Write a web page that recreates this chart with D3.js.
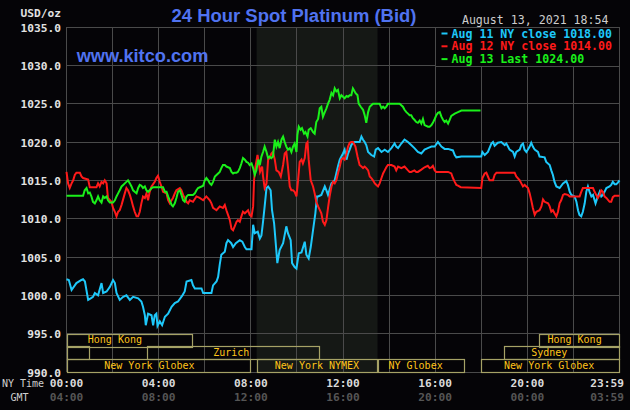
<!DOCTYPE html>
<html>
<head>
<meta charset="utf-8">
<script src="https://cdn.jsdelivr.net/npm/d3@7"></script>
<style>
  html, body { margin: 0; padding: 0; background: #050407; }
  svg { display: block; }
</style>
</head>
<body>
<div id="chart"></div>
<script>
// [hour of NY day, price]
const aug11 = [[0,1002.1],[0.1,1002.0],[0.22,1000.7],[0.43,1001.6],[0.65,1002.0],[0.72,1002.1],[0.8,1001.8],[0.94,999.4],[1.05,999.6],[1.15,999.8],[1.23,1000.3],[1.37,1000.0],[1.52,1001.6],[1.59,1000.3],[1.74,1000.5],[1.88,1001.1],[2.02,1002.0],[2.1,1001.6],[2.17,1000.3],[2.31,999.4],[2.46,999.8],[2.6,1000.0],[2.75,999.4],[2.89,999.8],[3.11,999.6],[3.25,999.2],[3.32,998.5],[3.4,997.4],[3.44,996.1],[3.54,997.6],[3.69,997.4],[3.76,996.1],[3.83,997.4],[3.9,997.6],[3.95,996.0],[4.05,996.6],[4.15,996.1],[4.27,997.2],[4.41,997.6],[4.56,998.5],[4.7,999.0],[4.84,999.2],[5.03,1000.0],[5.13,1000.5],[5.21,1001.8],[5.42,1002.0],[5.49,1001.3],[5.57,1000.9],[5.86,1000.9],[5.93,1000.3],[6.29,1000.3],[6.36,1001.3],[6.51,1001.8],[6.58,1002.4],[6.65,1004.0],[6.72,1005.3],[6.87,1005.7],[6.94,1006.8],[7.01,1007.2],[7.15,1006.8],[7.23,1006.3],[7.35,1006.8],[7.52,1007.2],[7.63,1007.0],[7.74,1006.3],[7.81,1006.0],[8.03,1006.0],[8.1,1009.2],[8.17,1008.1],[8.3,1008.3],[8.39,1007.4],[8.46,1007.8],[8.53,1009.6],[8.6,1011.6],[8.68,1014.0],[8.75,1014.2],[8.86,1013.7],[8.92,1011.1],[9.01,1009.4],[9.07,1007.2],[9.15,1004.2],[9.25,1005.9],[9.4,1006.8],[9.54,1009.0],[9.61,1008.1],[9.73,1007.2],[9.79,1004.2],[9.9,1003.7],[9.98,1003.5],[10.08,1005.5],[10.2,1005.6],[10.34,1007.0],[10.41,1005.3],[10.51,1004.8],[10.6,1006.3],[10.7,1008.5],[10.8,1010.7],[10.87,1012.9],[10.92,1012.9],[11.06,1013.1],[11.21,1014.2],[11.28,1013.7],[11.35,1013.1],[11.5,1014.6],[11.64,1015.0],[11.71,1015.9],[11.78,1016.8],[11.86,1017.7],[11.93,1018.1],[12.0,1018.5],[12.07,1019.0],[12.15,1017.7],[12.22,1018.5],[12.29,1019.0],[12.36,1019.6],[12.43,1019.9],[12.51,1020.0],[12.72,1020.0],[12.8,1020.7],[12.87,1020.3],[12.94,1020.0],[13.01,1019.6],[13.09,1018.7],[13.23,1018.3],[13.35,1018.1],[13.42,1019.0],[13.52,1019.2],[13.67,1018.7],[13.81,1019.0],[13.95,1018.7],[14.1,1019.2],[14.24,1019.8],[14.31,1019.4],[14.39,1019.2],[14.53,1019.8],[14.67,1020.3],[14.82,1020.0],[14.96,1019.6],[15.1,1019.2],[15.25,1018.7],[15.4,1018.5],[15.54,1019.0],[15.68,1019.2],[15.84,1019.4],[15.98,1019.4],[16.12,1020.0],[16.27,1019.4],[16.41,1019.1],[16.56,1019.1],[16.77,1018.9],[16.85,1018.3],[16.92,1018.0],[17.14,1018.1],[18.0,1018.1],[18.05,1018.7],[18.15,1018.3],[18.29,1018.7],[18.44,1019.8],[18.51,1020.0],[18.58,1019.5],[18.72,1019.9],[18.87,1020.0],[18.94,1019.8],[19.02,1019.6],[19.09,1019.8],[19.23,1019.0],[19.38,1018.7],[19.45,1018.1],[19.52,1018.7],[19.67,1019.0],[19.74,1019.6],[19.81,1019.8],[19.88,1019.0],[19.96,1018.7],[20.1,1019.4],[20.17,1019.9],[20.24,1019.4],[20.32,1019.0],[20.46,1018.7],[20.53,1018.1],[20.75,1018.0],[20.82,1017.4],[20.97,1017.0],[21.04,1016.3],[21.11,1015.7],[21.18,1014.8],[21.26,1014.2],[21.4,1014.0],[21.55,1014.6],[21.69,1014.9],[21.76,1014.4],[21.84,1013.5],[21.91,1013.1],[22.05,1012.9],[22.13,1012.2],[22.2,1011.1],[22.26,1010.5],[22.34,1010.3],[22.41,1010.9],[22.49,1012.0],[22.56,1013.5],[22.63,1014.2],[22.7,1013.5],[22.78,1012.9],[22.85,1013.1],[22.96,1012.0],[23.06,1012.9],[23.14,1013.5],[23.21,1012.9],[23.28,1013.1],[23.35,1013.5],[23.43,1014.0],[23.57,1014.2],[23.64,1014.4],[23.71,1014.8],[23.79,1014.5],[23.86,1014.5],[23.93,1014.7],[24.0,1015.0]];

const aug12 = [[0,1016.1],[0.07,1014.6],[0.14,1014.0],[0.22,1014.6],[0.29,1015.0],[0.36,1015.7],[0.43,1016.0],[0.58,1016.0],[0.65,1015.5],[0.72,1015.3],[0.94,1015.1],[1.01,1014.1],[1.3,1014.1],[1.37,1014.6],[1.44,1014.2],[1.52,1014.8],[1.59,1014.6],[1.66,1015.0],[1.74,1014.6],[1.8,1012.7],[1.95,1012.2],[2.02,1011.4],[2.1,1010.9],[2.17,1010.3],[2.24,1010.9],[2.31,1011.1],[2.39,1011.8],[2.53,1013.3],[2.6,1014.0],[2.67,1013.7],[2.75,1013.1],[2.82,1012.4],[2.89,1011.6],[2.96,1010.9],[3.04,1010.3],[3.11,1010.3],[3.18,1010.9],[3.25,1012.0],[3.32,1012.9],[3.4,1012.7],[3.47,1013.3],[3.54,1012.4],[3.61,1013.5],[3.69,1014.2],[3.83,1014.8],[3.9,1015.3],[3.97,1015.6],[4.05,1014.8],[4.12,1014.2],[4.19,1013.5],[4.34,1013.3],[4.41,1012.4],[4.48,1012.0],[4.56,1012.4],[4.62,1012.7],[4.7,1013.3],[4.77,1013.7],[4.92,1014.0],[4.99,1013.7],[5.06,1013.1],[5.13,1012.7],[5.21,1012.2],[5.28,1012.0],[5.35,1012.4],[5.49,1012.2],[5.64,1012.9],[5.78,1012.7],[5.93,1012.4],[6.07,1012.9],[6.22,1012.4],[6.29,1012.0],[6.36,1011.4],[6.51,1011.1],[6.65,1011.6],[6.79,1011.4],[6.87,1011.8],[6.94,1011.1],[7.01,1010.5],[7.09,1009.8],[7.16,1008.7],[7.23,1008.5],[7.3,1009.0],[7.38,1009.6],[7.44,1009.8],[7.52,1009.6],[7.59,1010.3],[7.66,1010.9],[7.74,1010.7],[7.81,1010.9],[7.88,1011.1],[7.95,1010.5],[8.03,1010.3],[8.1,1011.6],[8.14,1015.0],[8.2,1016.8],[8.29,1018.3],[8.34,1017.4],[8.4,1016.1],[8.49,1016.8],[8.53,1015.5],[8.6,1014.0],[8.68,1014.6],[8.75,1017.7],[8.82,1017.9],[8.89,1018.5],[8.96,1018.7],[9.04,1017.7],[9.11,1016.3],[9.21,1016.1],[9.3,1015.5],[9.4,1017.0],[9.47,1018.5],[9.54,1018.7],[9.61,1016.8],[9.69,1014.2],[9.76,1013.7],[9.83,1013.7],[9.9,1013.5],[9.98,1012.9],[10.05,1015.0],[10.12,1017.4],[10.2,1017.7],[10.26,1017.2],[10.34,1017.9],[10.41,1019.8],[10.46,1020.0],[10.51,1017.7],[10.6,1015.0],[10.7,1014.2],[10.77,1013.3],[10.84,1012.2],[10.92,1011.6],[11.06,1010.7],[11.13,1009.6],[11.21,1009.2],[11.28,1009.8],[11.35,1011.4],[11.42,1012.9],[11.5,1014.2],[11.57,1014.8],[11.64,1014.6],[11.71,1015.0],[11.78,1015.9],[11.86,1016.8],[11.93,1017.7],[12.0,1017.9],[12.07,1017.7],[12.15,1018.5],[12.22,1019.4],[12.29,1019.9],[12.36,1020.0],[12.43,1020.0],[12.47,1019.8],[12.54,1019.4],[12.63,1018.1],[12.72,1017.0],[12.8,1016.8],[12.87,1016.6],[12.94,1016.8],[13.01,1016.6],[13.09,1016.3],[13.16,1015.5],[13.23,1015.3],[13.3,1015.0],[13.38,1014.6],[13.45,1014.4],[13.52,1014.2],[13.59,1014.6],[13.67,1015.3],[13.74,1015.9],[13.81,1016.3],[13.88,1016.7],[13.95,1017.0],[14.1,1017.0],[14.24,1016.8],[14.31,1016.3],[14.39,1016.8],[14.53,1016.6],[14.67,1016.8],[14.82,1016.3],[14.89,1016.1],[14.96,1016.1],[15.1,1016.3],[15.18,1016.1],[15.25,1016.1],[15.4,1016.4],[15.54,1016.7],[15.68,1016.9],[15.76,1016.6],[15.84,1016.7],[15.9,1016.9],[15.98,1016.3],[16.05,1016.1],[16.56,1016.1],[16.7,1015.9],[16.77,1015.3],[16.85,1014.8],[16.92,1014.4],[16.99,1014.3],[17.11,1014.1],[18.0,1014.0],[18.05,1015.3],[18.15,1015.9],[18.22,1016.0],[18.29,1015.5],[18.36,1015.0],[18.51,1015.0],[18.58,1015.7],[18.66,1016.0],[19.45,1016.0],[19.52,1015.5],[19.67,1015.0],[19.74,1014.6],[19.81,1014.2],[19.88,1014.4],[20.03,1014.0],[20.1,1013.3],[20.17,1012.4],[20.24,1011.4],[20.32,1010.5],[20.39,1010.9],[20.53,1011.1],[20.61,1011.6],[20.68,1012.5],[20.75,1012.2],[20.9,1012.0],[20.97,1011.6],[21.04,1010.9],[21.11,1011.1],[21.18,1010.7],[21.26,1010.3],[21.33,1010.9],[21.4,1012.0],[21.47,1012.4],[21.55,1013.1],[21.62,1013.2],[21.76,1013.1],[21.84,1012.9],[22.27,1012.9],[22.34,1013.5],[22.41,1014.0],[22.85,1014.0],[22.92,1013.5],[22.99,1013.1],[23.06,1012.7],[23.14,1013.1],[23.21,1013.7],[23.28,1013.5],[23.35,1012.9],[23.43,1012.7],[23.57,1012.2],[23.64,1012.2],[23.71,1012.8],[23.79,1013.0],[24.0,1013.0]];

const aug13 = [[0,1013.0],[0.72,1013.0],[0.79,1013.7],[0.87,1014.0],[0.94,1013.3],[1.01,1013.4],[1.08,1012.9],[1.15,1012.2],[1.23,1012.0],[1.3,1012.4],[1.37,1012.9],[1.44,1012.4],[1.52,1012.1],[1.59,1012.9],[1.66,1012.7],[1.74,1012.9],[1.8,1012.4],[1.88,1012.1],[2.02,1012.1],[2.1,1012.4],[2.17,1012.9],[2.24,1013.3],[2.31,1013.7],[2.39,1014.2],[2.46,1014.4],[2.53,1014.6],[2.6,1014.8],[2.67,1015.0],[2.75,1014.6],[2.82,1014.2],[2.89,1013.7],[2.96,1013.5],[3.04,1013.3],[3.11,1014.0],[3.18,1014.4],[3.25,1014.3],[3.32,1014.0],[3.4,1014.2],[3.47,1013.7],[3.54,1013.5],[3.61,1013.7],[3.69,1014.0],[3.76,1014.1],[4.19,1014.1],[4.27,1013.5],[4.34,1013.5],[4.41,1012.9],[4.48,1012.4],[4.56,1011.8],[4.62,1011.6],[4.7,1012.0],[4.77,1012.7],[4.84,1013.5],[4.92,1013.7],[4.99,1013.1],[5.06,1012.4],[5.13,1012.2],[5.21,1012.9],[5.28,1013.1],[5.49,1013.1],[5.57,1013.3],[5.64,1013.7],[5.71,1014.0],[5.86,1014.2],[5.93,1014.3],[6.0,1015.0],[6.07,1015.3],[6.15,1015.0],[6.22,1014.6],[6.29,1014.4],[6.36,1014.8],[6.44,1015.5],[6.51,1015.7],[6.58,1015.9],[6.65,1016.1],[6.72,1016.6],[6.79,1017.0],[6.87,1017.0],[6.94,1016.8],[7.09,1016.6],[7.16,1016.1],[7.23,1015.9],[7.3,1016.0],[7.38,1016.0],[7.44,1016.1],[7.52,1016.6],[7.59,1017.2],[7.66,1017.9],[7.74,1017.7],[7.81,1017.4],[7.88,1017.3],[7.95,1017.0],[8.03,1017.2],[8.1,1016.6],[8.17,1015.7],[8.24,1016.3],[8.32,1017.7],[8.39,1017.0],[8.46,1018.1],[8.53,1018.7],[8.6,1019.4],[8.68,1018.7],[8.75,1017.9],[8.82,1018.1],[8.89,1017.9],[8.96,1018.1],[9.04,1020.3],[9.11,1019.4],[9.18,1020.0],[9.25,1019.2],[9.33,1020.3],[9.4,1020.7],[9.47,1020.0],[9.54,1019.4],[9.61,1019.0],[9.69,1019.2],[9.76,1018.7],[9.83,1019.4],[9.9,1019.8],[9.98,1018.7],[10.02,1020.9],[10.08,1022.0],[10.16,1021.6],[10.22,1021.8],[10.31,1021.1],[10.37,1021.3],[10.46,1020.7],[10.51,1021.6],[10.6,1021.8],[10.7,1021.3],[10.77,1021.1],[10.84,1022.6],[10.92,1023.0],[10.99,1024.4],[11.06,1024.6],[11.13,1023.3],[11.21,1023.9],[11.28,1024.4],[11.35,1025.0],[11.42,1025.5],[11.5,1026.4],[11.57,1026.1],[11.64,1027.0],[11.71,1026.6],[11.78,1026.8],[11.86,1025.7],[11.93,1026.1],[12.0,1025.9],[12.07,1025.7],[12.15,1026.0],[12.22,1025.9],[12.29,1026.1],[12.36,1026.1],[12.43,1027.0],[12.47,1026.8],[12.54,1026.4],[12.63,1026.1],[12.68,1025.0],[12.77,1024.6],[12.87,1024.2],[12.94,1023.5],[13.01,1022.5],[13.09,1023.9],[13.16,1024.6],[13.23,1024.8],[13.3,1025.0],[13.59,1025.0],[13.67,1024.4],[13.74,1024.6],[13.81,1024.4],[13.88,1024.6],[13.95,1025.0],[14.46,1025.0],[14.53,1024.8],[14.6,1024.6],[14.67,1024.2],[14.75,1023.9],[14.82,1023.7],[14.89,1023.5],[14.96,1023.5],[15.03,1023.1],[15.1,1022.9],[15.18,1022.6],[15.25,1022.5],[15.33,1022.8],[15.4,1022.4],[15.47,1023.0],[15.54,1022.2],[15.69,1022.0],[15.76,1022.0],[15.84,1022.2],[15.9,1022.5],[15.98,1023.0],[16.05,1023.5],[16.12,1023.8],[16.2,1023.9],[16.27,1023.3],[16.34,1022.9],[16.41,1022.6],[16.48,1022.8],[16.56,1022.4],[16.63,1022.9],[16.7,1023.4],[16.85,1023.7],[16.92,1023.8],[16.99,1023.9],[17.14,1024.1],[17.97,1024.1]];

const seriesData = [aug11, aug12, aug13];
const seriesColors = ["#1ec8fa", "#ff1a1a", "#1af01a"];
const legendLabels = ["Aug 11 NY close 1018.00", "Aug 12 NY close 1014.00", "Aug 13 Last 1024.00"];

const tickHours = [0, 4, 8, 12, 16, 20, 24];
const nyLabels = ["00:00", "04:00", "08:00", "12:00", "16:00", "20:00", "23:59"];
const gmtLabels = ["04:00", "08:00", "12:00", "16:00", "20:00", "00:00", "03:59"];
const priceTicks = [990, 995, 1000, 1005, 1010, 1015, 1020, 1025, 1030, 1035];

// trading sessions: row, start hour, end hour, label, label centre hour
const sessionNames = ["Hong Kong", "Hong Kong", "", "Zurich", "Sydney", "New York Globex", "New York NYMEX", "NY Globex", "New York Globex"];
const sessionRows = [0, 0, 1, 1, 1, 2, 2, 2, 2];
const sessionStart = [0, 20.5, 0, 3.5, 19, 0, 8.25, 13.5, 18];
const sessionEnd = [5.5, 24, 1, 11, 24, 8, 13.5, 17.3, 24];
const sessionLabelAt = [2.1, 22.05, 0.5, 7.15, 20.95, 3.6, 10.87, 15.15, 20.95];
const nymexHours = [8.25, 13.5];

const W = 630, H = 410;
const MARGIN = { LEFT: 66.5, RIGHT: 10.5, TOP: 27, BOTTOM: 38 };
const FONT_MONO = "'DejaVu Sans Mono', 'Liberation Mono', monospace";

const svg = d3.select("#chart").append("svg")
  .attr("width", W)
  .attr("height", H);

svg.append("rect").attr("width", W).attr("height", H).attr("fill", "#050407");

const x = d3.scaleLinear().domain([0, 24]).range([MARGIN.LEFT, W - MARGIN.RIGHT]);
const y = d3.scaleLinear().domain([990, 1035]).range([H - MARGIN.BOTTOM, MARGIN.TOP]);

// NYMEX hours shading
svg.append("rect")
  .attr("x", x(nymexHours[0]))
  .attr("y", y(1035))
  .attr("width", x(nymexHours[1]) - x(nymexHours[0]))
  .attr("height", y(990) - y(1035))
  .attr("fill", "#151815");

//grid
const grid = svg.append("g").attr("stroke", "#4a4a4a").attr("shape-rendering", "crispEdges");
grid.selectAll(".vg").data(d3.range(0, 25, 2)).enter().append("line")
  .attr("x1", d => x(d)).attr("x2", d => x(d))
  .attr("y1", y(1035)).attr("y2", y(990));
grid.selectAll(".hg").data(priceTicks).enter().append("line")
  .attr("x1", x(0)).attr("x2", x(24))
  .attr("y1", d => y(d)).attr("y2", d => y(d));

// sessions at the bottom
const rowH = (y(990) - y(995)) / 3;
const sess = svg.append("g");
sessionNames.forEach((name, i) => {
  const top = y(995) + sessionRows[i] * rowH;
  sess.append("rect")
    .attr("x", Math.round(x(sessionStart[i])) + 0.5)
    .attr("y", Math.round(top) + 0.5)
    .attr("width", Math.round(x(sessionEnd[i])) - Math.round(x(sessionStart[i])) - 1)
    .attr("height", Math.round(rowH))
    .attr("fill", "none")
    .attr("stroke", "#a6a266")
    .attr("stroke-width", 1.2);
  if (name) {
    sess.append("text")
      .attr("x", x(sessionLabelAt[i]))
      .attr("y", top + 9.5)
      .attr("text-anchor", "middle")
      .attr("fill", "#ffc41a")
      .style("font-family", FONT_MONO)
      .style("font-size", "10px")
      .text(name);
  }
});

// price lines
const line = d3.line().x(d => x(d[0])).y(d => y(d[1]));
svg.append("g").selectAll("path").data(seriesData).enter().append("path")
  .attr("d", line)
  .attr("fill", "none")
  .attr("stroke", (d, i) => seriesColors[i])
  .attr("stroke-width", 2)
  .attr("stroke-linejoin", "miter");

// legend
const lg = svg.append("g");
lg.append("rect")
  .attr("x", 435.5).attr("y", y(1035))
  .attr("width", x(24) - 435.5).attr("height", 39)
  .attr("fill", "#050407").attr("stroke", "#4a4a4a")
  .attr("shape-rendering", "crispEdges");
legendLabels.forEach((lab, i) => {
  const by = 37.5 + i * 12.8;
  lg.append("line")
    .attr("x1", 441.5).attr("x2", 447.5)
    .attr("y1", by - 4).attr("y2", by - 4)
    .attr("stroke", seriesColors[i]).attr("stroke-width", 2);
  lg.append("text")
    .attr("x", 451.5).attr("y", by)
    .attr("fill", seriesColors[i])
    .style("font-family", FONT_MONO)
    .style("font-size", "11.6px")
    .style("font-weight", "bold")
    .text(lab);
});

// y labels
svg.append("g").selectAll("text").data(priceTicks).enter().append("text")
  .attr("x", 61)
  .attr("y", d => y(d) + 4.5)
  .attr("text-anchor", "end")
  .attr("fill", "#e2e2e2")
  .style("font-family", FONT_MONO)
  .style("font-size", "11.2px")
  .style("font-weight", "bold")
  .text(d => d3.format(".1f")(d));

svg.append("text")
  .attr("x", 61).attr("y", 16.5)
  .attr("text-anchor", "end")
  .attr("fill", "#e2e2e2")
  .style("font-family", FONT_MONO)
  .style("font-size", "11.2px")
  .style("font-weight", "bold")
  .text("USD/oz");

// x labels
const xl = svg.append("g")
  .style("font-family", FONT_MONO)
  .style("font-size", "11.2px")
  .style("font-weight", "bold");
tickHours.forEach((h, i) => {
  const last = i === tickHours.length - 1;
  xl.append("text")
    .attr("x", last ? x(h) + 4.5 : x(h))
    .attr("y", 386.7)
    .attr("text-anchor", last ? "end" : "middle")
    .attr("fill", "#dadada")
    .text(nyLabels[i]);
  xl.append("text")
    .attr("x", last ? x(h) + 4.5 : x(h))
    .attr("y", 401)
    .attr("text-anchor", last ? "end" : "middle")
    .attr("fill", "#555555")
    .text(gmtLabels[i]);
});
svg.append("text")
  .attr("x", 2).attr("y", 386.7)
  .attr("fill", "#cfcfcf")
  .style("font-family", FONT_MONO).style("font-size", "10px")
  .text("NY Time");
svg.append("text")
  .attr("x", 10.5).attr("y", 401)
  .attr("fill", "#cfcfcf")
  .style("font-family", FONT_MONO).style("font-size", "10px")
  .text("GMT");

// titles
svg.append("text")
  .attr("x", 171.5).attr("y", 22)
  .attr("textLength", 245).attr("lengthAdjust", "spacingAndGlyphs")
  .attr("fill", "#5073f0")
  .style("font-family", "'Liberation Sans', Arial, sans-serif")
  .style("font-size", "18px")
  .style("font-weight", "bold")
  .text("24 Hour Spot Platinum (Bid)");

svg.append("text")
  .attr("x", 76.7).attr("y", 61.5)
  .attr("textLength", 131.6).attr("lengthAdjust", "spacingAndGlyphs")
  .attr("fill", "#5073f0")
  .style("font-family", "'Liberation Sans', Arial, sans-serif")
  .style("font-size", "18px")
  .style("font-weight", "bold")
  .text("www.kitco.com");

svg.append("text")
  .attr("x", 608.5).attr("y", 24)
  .attr("text-anchor", "end")
  .attr("fill", "#cdcdcd")
  .style("font-family", FONT_MONO)
  .style("font-size", "11.6px")
  .text("August 13, 2021 18:54");
</script>
</body>
</html>
